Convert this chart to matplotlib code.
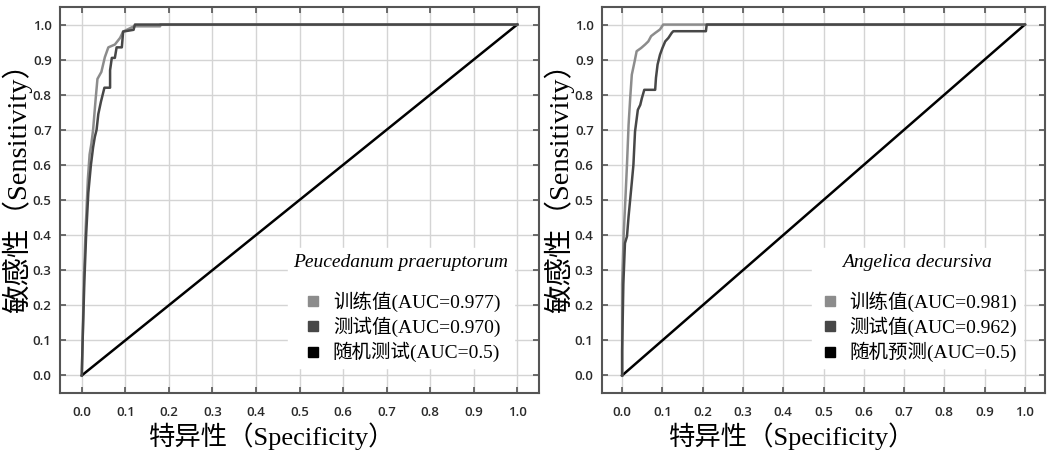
import matplotlib
matplotlib.use('Agg')
import matplotlib.pyplot as plt
from matplotlib.lines import Line2D

# 左图：Peucedanum praeruptorum
pp_train_fpr = [0, 0.002, 0.005, 0.009, 0.014, 0.018, 0.022, 0.026, 0.032, 0.036, 0.045,
                0.053, 0.061, 0.076, 0.088, 0.095, 0.12, 0.18, 0.18, 1.0]
pp_train_tpr = [0, 0.10, 0.28, 0.42, 0.56, 0.63, 0.66, 0.70, 0.79, 0.845, 0.865,
                0.907, 0.935, 0.943, 0.962, 0.98, 0.995, 0.995, 1.0, 1.0]
pp_test_fpr = [0, 0.002, 0.006, 0.010, 0.015, 0.021, 0.026, 0.030, 0.034, 0.038, 0.044,
               0.048, 0.052, 0.065, 0.065, 0.069, 0.076, 0.078, 0.080, 0.092, 0.095,
               0.119, 0.122, 1.0]
pp_test_tpr = [0, 0.10, 0.27, 0.40, 0.52, 0.60, 0.65, 0.68, 0.70, 0.745, 0.78,
               0.80, 0.82, 0.82, 0.87, 0.905, 0.905, 0.92, 0.935, 0.935, 0.98,
               0.985, 1.0, 1.0]

# 右图：Angelica decursiva
ad_train_fpr = [0, 0.0, 0.0, 0.004, 0.008, 0.012, 0.016, 0.020, 0.024, 0.031, 0.036,
                0.047, 0.057, 0.065, 0.072, 0.082, 0.094, 0.102, 1.0]
ad_train_tpr = [0, 0.14, 0.26, 0.405, 0.50, 0.60, 0.714, 0.79, 0.857, 0.895, 0.924,
                0.933, 0.943, 0.952, 0.967, 0.976, 0.986, 1.0, 1.0]
ad_test_fpr = [0, 0.0, 0.003, 0.007, 0.012, 0.016, 0.024, 0.028, 0.032, 0.039, 0.045,
               0.049, 0.055, 0.082, 0.084, 0.088, 0.094, 0.100, 0.107, 0.115, 0.123,
               0.127, 0.208, 0.210, 1.0]
ad_test_tpr = [0, 0.07, 0.26, 0.377, 0.396, 0.453, 0.55, 0.60, 0.695, 0.757, 0.771,
               0.79, 0.814, 0.814, 0.848, 0.886, 0.914, 0.933, 0.952, 0.962, 0.976,
               0.981, 0.981, 1.0, 1.0]

rand_xy = [0, 1]
ticks = [0.0, 0.1, 0.2, 0.3, 0.4, 0.5, 0.6, 0.7, 0.8, 0.9, 1.0]

panels = [
    ('Peucedanum praeruptorum', pp_train_fpr, pp_train_tpr, pp_test_fpr, pp_test_tpr,
     ['训练值(AUC=0.977)', '测试值(AUC=0.970)', '随机测试(AUC=0.5)']),
    ('Angelica decursiva', ad_train_fpr, ad_train_tpr, ad_test_fpr, ad_test_tpr,
     ['训练值(AUC=0.981)', '测试值(AUC=0.962)', '随机预测(AUC=0.5)']),
]

c_train = '#8c8c8c'
c_test = '#474747'
c_rand = '#000000'
mixed = ['Liberation Serif', 'Noto Sans CJK SC']

fig = plt.figure(figsize=(10.51, 4.51), dpi=100)
boxes = [[60 / 1051, 1 - 393 / 451, 479 / 1051, 386 / 451],
         [602 / 1051, 1 - 393 / 451, 443 / 1051, 386 / 451]]
ylab_x = [-0.058, -0.063]
xlab_x = [0.443, 0.43]

for i, (box, (title, trf, trt, tef, tet, labels)) in enumerate(zip(boxes, panels)):
    ax = fig.add_axes(box)
    ax.grid(True, color='#d4d4d4', lw=1)
    ax.set_axisbelow(True)
    ax.plot(rand_xy, rand_xy, color=c_rand, lw=1.8)
    ax.plot(trf, trt, color=c_train, lw=1.8)
    ax.plot(tef, tet, color=c_test, lw=1.8)
    ax.set_xlim(-0.05, 1.05)
    ax.set_ylim(-0.05, 1.05)
    ax.set_xticks(ticks)
    ax.set_yticks(ticks)
    ax.set_xticklabels(['%.1f' % t for t in ticks], family='Open Sans', fontsize=9.5,
                       color='#2a2a2a', fontweight='semibold')
    ax.set_yticklabels(['%.1f' % t for t in ticks], family='Open Sans', fontsize=9.5,
                       color='#2a2a2a', fontweight='semibold')
    ax.tick_params(direction='in', length=4, width=1.2, color='#555555',
                   top=True, right=True, pad=6)
    ax.tick_params(axis='x', pad=9)
    for sp in ax.spines.values():
        sp.set_color('#555555')
        sp.set_linewidth(1.5)
    ax.set_xlabel('特异性（Specificity）', family=mixed, fontsize=19)
    ax.set_ylabel('敏感性（Sensitivity）', family=mixed, fontsize=20.5)
    ax.xaxis.set_label_coords(xlab_x[i], -0.077)
    ax.yaxis.set_label_coords(ylab_x[i], 0.548)

    handles = [Line2D([], [], ls='none', marker='s', ms=7.5, color=c) for c in (c_train, c_test, c_rand)]
    leg = ax.legend(handles, labels, title=title, loc='center', bbox_to_anchor=(0.712, 0.22),
                    prop={'family': mixed, 'size': 14},
                    title_fontproperties={'family': 'Liberation Serif', 'style': 'italic', 'size': 14},
                    frameon=True, facecolor='white', edgecolor='white', framealpha=1,
                    handletextpad=0.4, labelspacing=0.25, handlelength=1.2,
                    borderpad=0.3)
    leg._legend_box.sep = 15

fig.savefig('out.png', dpi=100)
